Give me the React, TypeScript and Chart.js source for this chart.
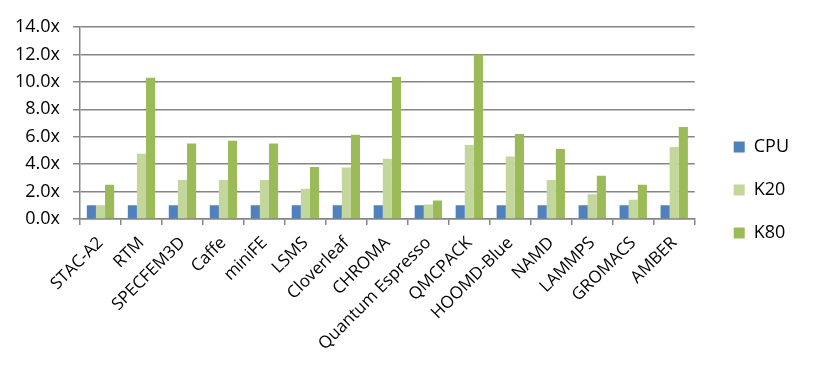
import React, { useEffect, useRef } from 'react';
import { Chart, registerables } from 'chart.js';

Chart.register(...registerables);

const categories = [
  'STAC-A2', 'RTM', 'SPECFEM3D', 'Caffe', 'miniFE', 'LSMS', 'Cloverleaf', 'CHROMA',
  'Quantum Espresso', 'QMCPACK', 'HOOMD-Blue', 'NAMD', 'LAMMPS', 'GROMACS', 'AMBER',
];
const seriesNames = ['CPU', 'K20', 'K80'];
const cpu = [1, 1, 1, 1, 1, 1, 1, 1, 1, 1, 1, 1, 1, 1, 1];
const k20 = [1.0, 4.75, 2.85, 2.85, 2.85, 2.2, 3.75, 4.4, 1.05, 5.4, 4.55, 2.85, 1.8, 1.4, 5.25];
const k80 = [2.5, 10.3, 5.5, 5.7, 5.5, 3.8, 6.15, 10.35, 1.35, 12.0, 6.2, 5.1, 3.15, 2.5, 6.7];
const colors = ['#4F81BD', '#C3D69B', '#9BBB59'];
const yMin = 0;
const yMax = 14;
const yStep = 2;

const FONT = "'Open Sans', 'DejaVu Sans', sans-serif";
const GRID = '#868686';

export default function App() {
  const ref = useRef<HTMLCanvasElement | null>(null);

  useEffect(() => {
    if (!ref.current) return;
    const chart = new Chart(ref.current, {
      type: 'bar',
      data: {
        labels: categories,
        datasets: [cpu, k20, k80].map((d, i) => ({
          label: seriesNames[i],
          data: d,
          backgroundColor: colors[i],
          borderWidth: 0,
          categoryPercentage: 0.667,
          barPercentage: 1,
          yAxisID: 'y',
        })),
      },
      options: {
        responsive: false,
        animation: false,
        layout: { padding: { top: 27, right: 15, bottom: 25, left: 0 } },
        plugins: {
          legend: {
            position: 'right',
            labels: {
              boxWidth: 11,
              boxHeight: 11,
              padding: 25,
              color: '#000',
              font: { family: FONT, size: 18 },
            },
          },
          tooltip: { enabled: false },
        },
        scales: {
          x: {
            grid: {
              display: true,
              drawOnChartArea: false,
              color: GRID,
              lineWidth: 1.5,
              tickLength: 6,
              offset: true,
            },
            border: { color: GRID, width: 1.5 },
            ticks: {
              color: '#000',
              font: { family: FONT, size: 17 },
              minRotation: 45,
              maxRotation: 45,
              autoSkip: false,
              padding: 8,
            },
            afterFit: (s: any) => { s.height = 134; },
          },
          y: {
            min: yMin,
            max: yMax,
            ticks: {
              stepSize: yStep,
              color: '#000',
              font: { family: FONT, size: 18 },
              padding: 13,
              callback: (v: any) => Number(v).toFixed(1) + 'x',
            },
            grid: { color: GRID, lineWidth: 1.5, tickLength: 7 },
            border: { color: GRID, width: 1.5 },
            afterFit: (s: any) => { s.width = 80; },
          },
          yR: {
            type: 'linear',
            axis: 'y',
            position: 'right',
            display: true,
            ticks: { display: false },
            grid: { display: false },
            border: { display: false },
            afterFit: (s: any) => { s.width = 14; },
          },
        },
      } as any,
    });
    return () => chart.destroy();
  }, []);

  return (
    <div style={{ position: 'absolute', left: 0, top: 0, width: 814, height: 378, background: '#fff' }}>
      <canvas ref={ref} width={814} height={378} />
    </div>
  );
}
